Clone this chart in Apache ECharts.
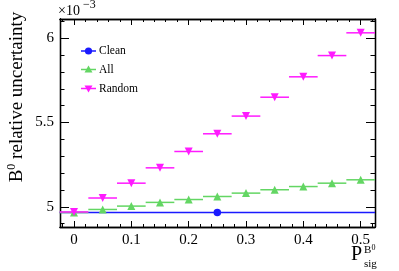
<!DOCTYPE html>
<html>
<head>
<meta charset="utf-8">
<script src="https://cdn.jsdelivr.net/npm/echarts@6/dist/echarts.min.js"></script>
<style>html,body{margin:0;padding:0;background:#fff}#chart{width:399px;height:271px}</style>
</head>
<body>
<div id="chart"></div>
<script>
// ---- data (values in units of 1e-3) ----
const xValues = [0, 0.05, 0.1, 0.15, 0.2, 0.25, 0.3, 0.35, 0.4, 0.45, 0.5];
const allValues = [4.966, 4.984, 5.004, 5.026, 5.043, 5.061, 5.081, 5.101, 5.120, 5.140, 5.160];
const randomValues = [4.969, 5.052, 5.140, 5.231, 5.328, 5.433, 5.538, 5.650, 5.771, 5.897, 6.032];
const binHalfWidth = 0.025;
const cleanX = [0.25];
const cleanValues = [4.966];
const cleanHalfWidth = [0.275];
const xTickLabels = [0, 0.1, 0.2, 0.3, 0.4, 0.5];
const xMinorTicks = [-0.02, 0, 0.02, 0.04, 0.06, 0.08, 0.1, 0.12, 0.14, 0.16, 0.18, 0.2, 0.22, 0.24, 0.26, 0.28, 0.3, 0.32, 0.34, 0.36, 0.38, 0.4, 0.42, 0.44, 0.46, 0.48, 0.5, 0.52];
const yTickLabels = [5, 5.5, 6];
const yMinorTicks = [4.9, 5.0, 5.1, 5.2, 5.3, 5.4, 5.5, 5.6, 5.7, 5.8, 5.9, 6.0, 6.1];
const seriesNames = ['Clean', 'All', 'Random'];

const FONT = '"Liberation Serif", "DejaVu Serif", serif';
const BLUE = '#1a1aff', GREEN = '#63d663', MAGENTA = '#ff1aff';

const xr = { min: -0.0244, max: 0.525 };
const yr = { min: 4.880, max: 6.114 };

function xAx(pos, customTicks, len, labels) {
  return {
    type: 'value', position: pos, min: xr.min, max: xr.max,
    splitLine: { show: false },
    axisLine: { show: true, onZero: false, lineStyle: { color: '#000', width: 1.3 } },
    axisTick: { show: true, inside: true, length: len, customValues: customTicks, lineStyle: { color: '#000', width: 1 } },
    axisLabel: labels ? { show: true, customValues: xTickLabels, margin: 6, fontFamily: FONT, fontSize: 15, color: '#000', formatter: v => String(Math.round(v * 10) / 10) } : { show: false }
  };
}
function yAx(pos, customTicks, len, labels) {
  return {
    type: 'value', position: pos, min: yr.min, max: yr.max,
    splitLine: { show: false },
    axisLine: { show: true, onZero: false, lineStyle: { color: '#000', width: 1.3 } },
    axisTick: { show: true, inside: true, length: len, customValues: customTicks, lineStyle: { color: '#000', width: 1 } },
    axisLabel: labels ? { show: true, customValues: yTickLabels, margin: 6, fontFamily: FONT, fontSize: 15, color: '#000', formatter: v => String(Math.round(v * 10) / 10) } : { show: false }
  };
}

function errBarSeries(name, xs, ys, hws, color, z) {
  return {
    name: name, type: 'custom', xAxisIndex: 0, yAxisIndex: 0, z: z,
    data: xs.map((x, i) => [x, ys[i], Array.isArray(hws) ? hws[i] : hws]),
    encode: { x: 0, y: 1 },
    renderItem: function (params, api) {
      const x = api.value(0), y = api.value(1), hw = api.value(2);
      const p1 = api.coord([x - hw, y]), p2 = api.coord([x + hw, y]);
      return { type: 'line', shape: { x1: p1[0], y1: p1[1], x2: p2[0], y2: p2[1] }, style: { stroke: color, lineWidth: 1.5 } };
    }
  };
}
function markerSeries(name, xs, ys, symbol, rot, size, color, z) {
  return {
    name: name, type: 'scatter', xAxisIndex: 0, yAxisIndex: 0, z: z,
    symbol: symbol, symbolRotate: rot, symbolSize: size,
    itemStyle: { color: color, opacity: 1 },
    data: xs.map((x, i) => [x, ys[i]])
  };
}

const chart = echarts.init(document.getElementById('chart'), null, { renderer: 'canvas' });

function legendEntry(y, color, shape, label) {
  const els = [
    { type: 'line', shape: { x1: 81, y1: y, x2: 96, y2: y }, style: { stroke: color, lineWidth: 1.5 } }
  ];
  if (shape === 'circle') {
    els.push({ type: 'circle', shape: { cx: 88.5, cy: y, r: 3.6 }, style: { fill: color } });
  } else if (shape === 'up') {
    els.push({ type: 'polygon', shape: { points: [[88.5, y - 4], [84.5, y + 3], [92.5, y + 3]] }, style: { fill: color } });
  } else {
    els.push({ type: 'polygon', shape: { points: [[88.5, y + 4], [84.5, y - 3], [92.5, y - 3]] }, style: { fill: color } });
  }
  els.push({ type: 'text', x: 99, y: y, style: { text: label, fontFamily: FONT, fontSize: 11.5, fill: '#000', textVerticalAlign: 'middle' } });
  return els;
}

const option = {
  animation: false,
  backgroundColor: '#fff',
  grid: { left: 60, right: 24, top: 19, bottom: 44, containLabel: false },
  xAxis: [
    xAx('bottom', xTickLabels, 6, true),
    xAx('bottom', xMinorTicks, 3, false),
    xAx('top', xTickLabels, 6, false),
    xAx('top', xMinorTicks, 3, false)
  ],
  yAxis: [
    yAx('left', yTickLabels, 9, true),
    yAx('left', yMinorTicks, 4.5, false),
    yAx('right', yTickLabels, 9, false),
    yAx('right', yMinorTicks, 4.5, false)
  ],
  series: [
    errBarSeries(seriesNames[0], cleanX, cleanValues, cleanHalfWidth, BLUE, 2),
    markerSeries(seriesNames[0], cleanX, cleanValues, 'circle', 0, 7.5, BLUE, 3),
    errBarSeries(seriesNames[1], xValues, allValues, binHalfWidth, GREEN, 4),
    markerSeries(seriesNames[1], xValues, allValues, 'triangle', 0, 8, GREEN, 5),
    errBarSeries(seriesNames[2], xValues, randomValues, binHalfWidth, MAGENTA, 6),
    markerSeries(seriesNames[2], xValues, randomValues, 'triangle', 180, 8, MAGENTA, 7)
  ],
  graphic: [].concat(
    legendEntry(51, BLUE, 'circle', seriesNames[0]),
    legendEntry(69.5, GREEN, 'up', seriesNames[1]),
    legendEntry(88.5, MAGENTA, 'down', seriesNames[2]),
    [
      { type: 'text', x: 58, y: 18, style: { text: '×10', fontFamily: FONT, fontSize: 14, fill: '#000', textVerticalAlign: 'bottom' } },
      { type: 'text', x: 83, y: 11, style: { text: '−3', fontFamily: FONT, fontSize: 12, fill: '#000', textVerticalAlign: 'bottom' } },
      { type: 'text', x: 17, y: 97, rotation: Math.PI / 2,
        style: { text: 'B{sup|0} relative uncertainty', fontFamily: FONT, fontSize: 19, fill: '#000', textAlign: 'center', textVerticalAlign: 'middle',
          rich: { sup: { fontFamily: FONT, fontSize: 12, fill: '#000', padding: [0, 0, 10, 0] } } } },
      { type: 'text', x: 351, y: 265, style: { text: 'P', fontFamily: FONT, fontSize: 20, fill: '#000', textVerticalAlign: 'bottom' } },
      { type: 'text', x: 364, y: 256, style: { text: 'B', fontFamily: FONT, fontSize: 11, fill: '#000', textVerticalAlign: 'bottom' } },
      { type: 'text', x: 371.5, y: 252, style: { text: '0', fontFamily: FONT, fontSize: 8, fill: '#000', textVerticalAlign: 'bottom' } },
      { type: 'text', x: 364, y: 270, style: { text: 'sig', fontFamily: FONT, fontSize: 11, fill: '#000', textVerticalAlign: 'bottom' } }
    ]
  )
};
chart.setOption(option);
</script>
</body>
</html>
